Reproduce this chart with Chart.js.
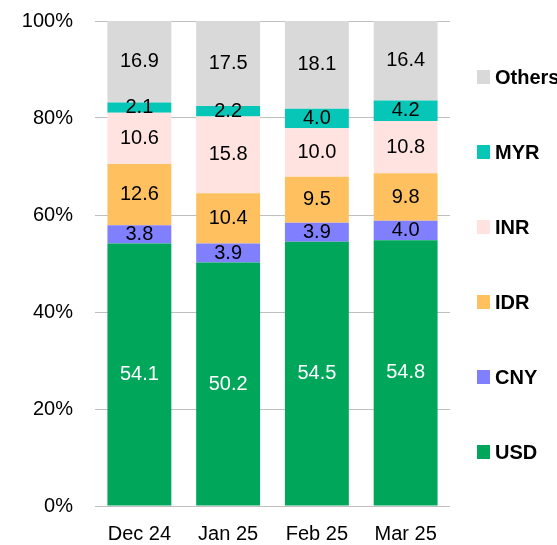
<!DOCTYPE html>
<html lang="en">
<head>
    <meta charset="UTF-8">
    <title>Currency shares</title>
    <script src="https://cdn.jsdelivr.net/npm/chart.js"></script>
    <style>
      body { margin: 0; background: #fff; }
    </style>
</head>
<body>
      <canvas id="myChart" width="557" height="545"></canvas>

      <script>
        const ctx = document.getElementById('myChart');

        let meses = ['Dec 24', 'Jan 25', 'Feb 25', 'Mar 25']
        let usd = [54.1, 50.2, 54.5, 54.8]
        let cny = [3.8, 3.9, 3.9, 4.0]
        let idr = [12.6, 10.4, 9.5, 9.8]
        let inr = [10.6, 15.8, 10.0, 10.8]
        let myr = [2.1, 2.2, 4.0, 4.2]
        let others = [16.9, 17.5, 18.1, 16.4]
        let ticksY = [0, 20, 40, 60, 80, 100]

        const fonte = "'Liberation Sans', Arial, sans-serif"

        // valores dentro das barras
        const rotulos = {
          id: 'rotulos',
          afterDatasetsDraw(chart) {
            const c = chart.ctx
            c.save()
            c.font = '20px ' + fonte
            c.textAlign = 'center'
            c.textBaseline = 'middle'
            chart.data.datasets.forEach((ds, i) => {
              chart.getDatasetMeta(i).data.forEach((bar, j) => {
                c.fillStyle = ds.corTexto
                c.fillText(ds.data[j].toFixed(1), bar.x, (bar.y + bar.base) / 2)
              })
            })
            c.restore()
          }
        }

        // legenda a direita, de cima (Others) para baixo (USD)
        const legenda = {
          id: 'legenda',
          afterDraw(chart) {
            const c = chart.ctx
            const area = chart.chartArea
            const x = area.right + 27
            c.save()
            c.font = 'bold 20px ' + fonte
            c.textBaseline = 'middle'
            c.textAlign = 'left'
            const lista = chart.data.datasets.slice().reverse()
            lista.forEach((ds, k) => {
              const y = area.top + 56 + k * 75
              c.fillStyle = ds.backgroundColor
              c.fillRect(x, y - 7, 13, 14)
              c.fillStyle = '#000'
              c.fillText(ds.label, x + 18, y + 1)
            })
            c.restore()
          }
        }

        let grafico1 = new Chart(ctx, {
          type: 'bar',
          data: {
            labels: meses,
            datasets: [
              { label: 'USD', data: usd, backgroundColor: '#00a65a', corTexto: '#fff' },
              { label: 'CNY', data: cny, backgroundColor: '#8080ff', corTexto: '#000' },
              { label: 'IDR', data: idr, backgroundColor: '#ffc060', corTexto: '#000' },
              { label: 'INR', data: inr, backgroundColor: '#ffe3e0', corTexto: '#000' },
              { label: 'MYR', data: myr, backgroundColor: '#06c6b8', corTexto: '#000' },
              { label: 'Others', data: others, backgroundColor: '#d9d9d9', corTexto: '#000' }
            ]
          },
          options: {
            responsive: false,
            animation: false,
            barPercentage: 0.72,
            categoryPercentage: 1,
            layout: { padding: { top: 21, right: 107, left: 0, bottom: 0 } },
            plugins: {
              legend: { display: false },
              tooltip: { enabled: false }
            },
            scales: {
              x: {
                stacked: true,
                grid: { display: false },
                border: { display: false },
                ticks: { color: '#000', padding: 8, font: { family: fonte, size: 20 } },
                afterFit: s => { s.height = 39 }
              },
              y: {
                stacked: true,
                min: 0,
                max: 100,
                afterBuildTicks: s => { s.ticks = ticksY.map(v => ({ value: v })) },
                grid: { color: '#bfbfbf', lineWidth: 1, drawTicks: false },
                border: { display: false },
                ticks: {
                  color: '#000',
                  padding: 22,
                  font: { family: fonte, size: 20 },
                  callback: v => v + '%'
                },
                afterFit: s => {
                  s.width = 95
                  s.paddingTop = 0
                  s.paddingBottom = 0
                }
              }
            }
          },
          plugins: [rotulos, legenda]
        });
      </script>
</body>
</html>
